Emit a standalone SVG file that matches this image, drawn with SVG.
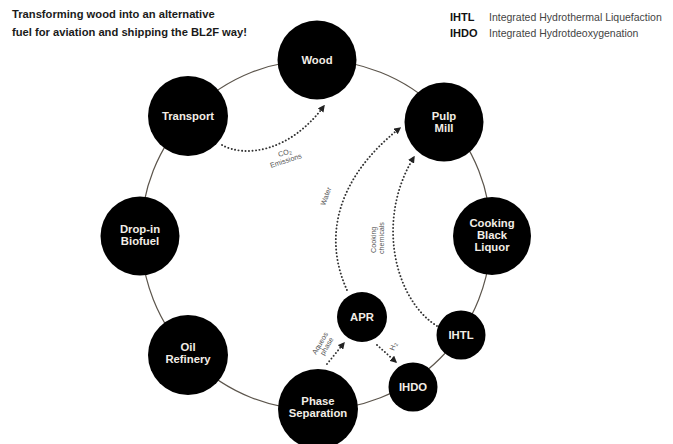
<svg xmlns="http://www.w3.org/2000/svg" width="673" height="444" viewBox="0 0 673 444">
<defs>
<style>
.title{font-family:"Liberation Sans",Arial,sans-serif;font-weight:bold;font-size:11.2px;fill:#1a1a1a}
.abbr{font-family:"Liberation Sans",Arial,sans-serif;font-weight:bold;font-size:11px;fill:#111}
.def{font-family:"Liberation Sans",Arial,sans-serif;font-size:10.5px;fill:#444}
.node circle{fill:#000}
.node text{font-family:"Liberation Sans",Arial,sans-serif;font-weight:bold;font-size:11.3px;fill:#f2ede6;text-anchor:middle}
.ring{fill:none;stroke:#5c554c;stroke-width:1.2}
.flow{fill:none;stroke:#333;stroke-width:1.9;stroke-linecap:round;stroke-dasharray:0.1 3.4}
.lab{font-family:"Liberation Sans",Arial,sans-serif;font-size:7.2px;fill:#555}
</style>
<marker id="ah" viewBox="0 0 10 10" refX="8" refY="5" markerWidth="7" markerHeight="7" markerUnits="userSpaceOnUse" orient="auto">
<path d="M0,0 L10,5 L0,10 Z" fill="#222"/>
</marker>
</defs>
<rect width="673" height="444" fill="#fff"/>
<text class="title" x="12" y="18">Transforming wood into an alternative</text>
<text class="title" x="12" y="36">fuel for aviation and shipping the BL2F way!</text>
<text class="abbr" x="450" y="21">IHTL</text>
<text class="def" x="489" y="21">Integrated Hydrothermal Liquefaction</text>
<text class="abbr" x="450" y="37">IHDO</text>
<text class="def" x="489" y="37">Integrated Hydrotdeoxygenation</text>
<circle class="ring" cx="316" cy="235" r="175"/>
<g id="connectors">
<path class="flow" d="M222,145 C245,158 290,152 324,106" marker-end="url(#ah)"/>
<path class="flow" d="M347,290 C324,240 334,180 400,128" marker-end="url(#ah)"/>
<path class="flow" d="M437,326 C395,300 375,220 414,157" marker-end="url(#ah)"/>
<path class="flow" d="M327,364 L344,343" marker-end="url(#ah)"/>
<path class="flow" d="M377,345 L396,362" marker-end="url(#ah)"/>
<text class="lab" transform="translate(279,157) rotate(-18)">CO<tspan font-size="5" dy="1.5">2</tspan></text>
<text class="lab" transform="translate(271,168) rotate(-18)">Emissions</text>
<text class="lab" transform="translate(325,206) rotate(-70)">Water</text>
<text class="lab" transform="translate(376,253) rotate(-90)">Cooking</text>
<text class="lab" transform="translate(384,254) rotate(-90)">chemicals</text>
<text class="lab" transform="translate(316,355) rotate(-60)">Aqueos</text>
<text class="lab" transform="translate(324,356) rotate(-60)">phase</text>
<text class="lab" transform="translate(394,351) rotate(-70)">H<tspan font-size="5" dy="1.5">2</tspan></text>
</g>
<g id="wood" class="node"><circle cx="317" cy="60" r="39.5"/><text x="317" y="64">Wood</text></g>
<g id="transport" class="node"><circle cx="188" cy="116" r="40"/><text x="188" y="120">Transport</text></g>
<g id="pulp-mill" class="node"><circle cx="444" cy="122" r="39.5"/><text x="444" y="120">Pulp</text><text x="444" y="132">Mill</text></g>
<g id="cooking-black-liquor" class="node"><circle cx="492" cy="236" r="39"/><text x="492" y="227">Cooking</text><text x="492" y="239">Black</text><text x="492" y="251">Liquor</text></g>
<g id="ihtl" class="node"><circle cx="461" cy="335" r="24.5"/><text x="461" y="339">IHTL</text></g>
<g id="ihdo" class="node"><circle cx="413" cy="387" r="24.5"/><text x="413" y="391">IHDO</text></g>
<g id="apr" class="node"><circle cx="362" cy="317" r="25"/><text x="362" y="321">APR</text></g>
<g id="phase-separation" class="node"><circle cx="318" cy="409" r="40"/><text x="318" y="405">Phase</text><text x="318" y="417">Separation</text></g>
<g id="oil-refinery" class="node"><circle cx="188" cy="355" r="40"/><text x="188" y="351">Oil</text><text x="188" y="363">Refinery</text></g>
<g id="drop-in-biofuel" class="node"><circle cx="140" cy="236" r="39.5"/><text x="140" y="233">Drop-in</text><text x="140" y="245">Biofuel</text></g>
</svg>
